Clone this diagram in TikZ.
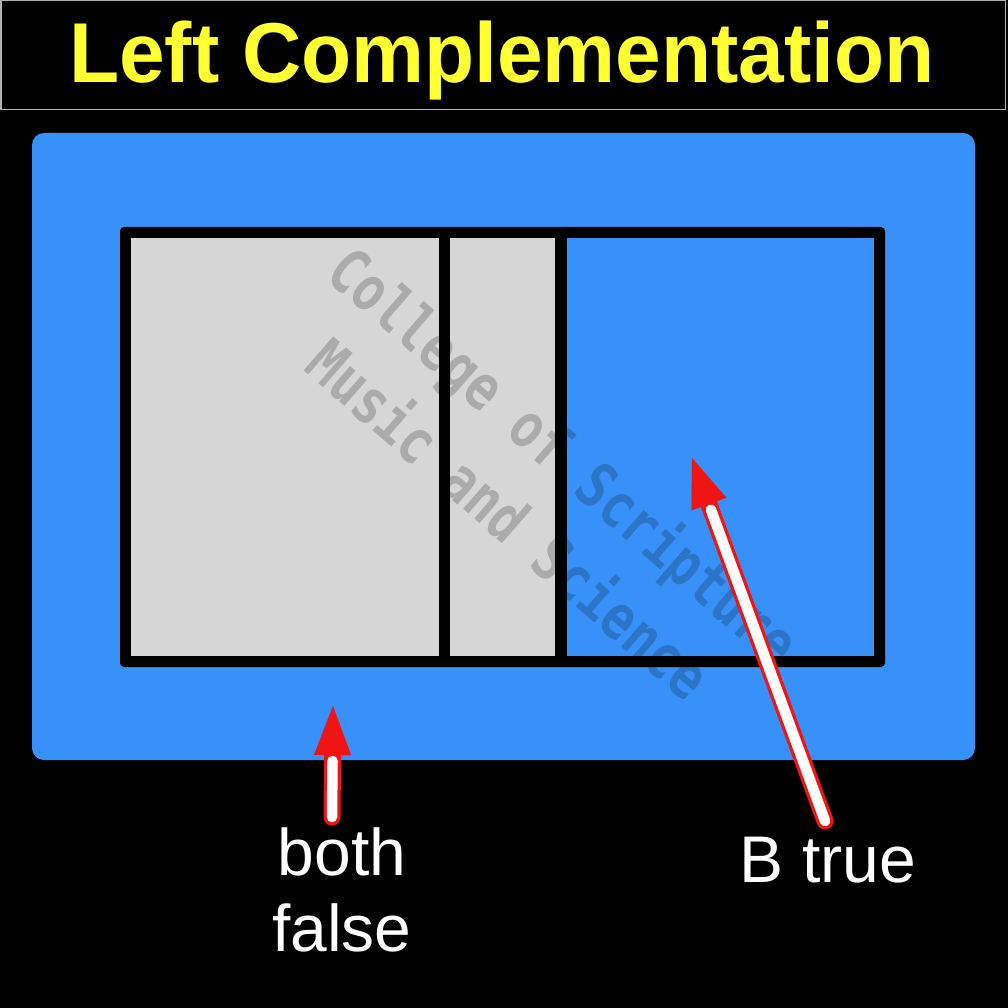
\documentclass[tikz,border=0pt]{standalone}
\usepackage{fontspec}
\setmainfont{Liberation Sans}
\newfontfamily\wmfont{DejaVu Sans Mono}
\usetikzlibrary{arrows.meta}
\definecolor{panelblue}{RGB}{56,145,248}
\definecolor{cellgray}{RGB}{214,214,214}
\definecolor{titleyellow}{RGB}{255,255,51}
\definecolor{arrowred}{RGB}{240,20,20}
\tikzset{
  titletext/.style={font=\fontsize{85}{90}\selectfont\bfseries, text=titleyellow, inner sep=0pt},
  lbltext/.style={font=\fontsize{66}{76}\selectfont, text=white, inner sep=0pt, align=center},
  redshaft/.style={draw=arrowred, line width=17pt, line cap=round, -{Triangle[length=49pt,width=37pt,line width=0.1pt]}},
  whiteshaft/.style={draw=white, line width=10.5pt, line cap=round, shorten >=55pt},
  watermark/.style={font=\fontsize{62}{84}\selectfont\wmfont\bfseries, text=black, text opacity=0.2, align=center, inner sep=0pt}
}
\begin{document}
\begin{tikzpicture}[x=1pt,y=-1pt]
\useasboundingbox (0,0) rectangle (1008,1008);
\fill[black] (0,0) rectangle (1008,1008);
% title bar
\draw[draw=gray!60, line width=1.5pt] (0.75,0.75) rectangle (1005.5,109.5);
\node[titletext, anchor=base] (title) at (502,83) {\scalebox{0.965}[1]{Left Complementation}};
% outer blue panel
\fill[panelblue, rounded corners=12pt] (32,133) rectangle (975,760);
% inner frame
\fill[black, rounded corners=4pt] (120,227) rectangle (885,667);
\fill[cellgray] (131,238) rectangle (439,656);
\fill[cellgray] (450,238) rectangle (555,656);
\fill[panelblue] (567,238) rectangle (874,656);
% watermark
\node[watermark, rotate=-41] (wm) at (538,486) {\scalebox{0.8}[1]{College of Scripture}\\\scalebox{0.8}[1]{Music and Science}};
% labels
\node[lbltext, anchor=base] (both) at (342,875) {both};
\node[lbltext, anchor=base] (false) at (342,951) {false};
\node[lbltext, anchor=base] (btrue) at (828,882) {B true};
% arrow anchors
\coordinate (bfTail) at (332,817);
\coordinate (bfTip) at (333,706);
\coordinate (btTail) at (825,821);
\coordinate (btTip) at (692,458);
\draw[redshaft] (bfTail) -- (bfTip);
\draw[whiteshaft] (bfTail) -- (bfTip);
\draw[redshaft] (btTail) -- (btTip);
\draw[whiteshaft] (btTail) -- (btTip);
\end{tikzpicture}
\end{document}
